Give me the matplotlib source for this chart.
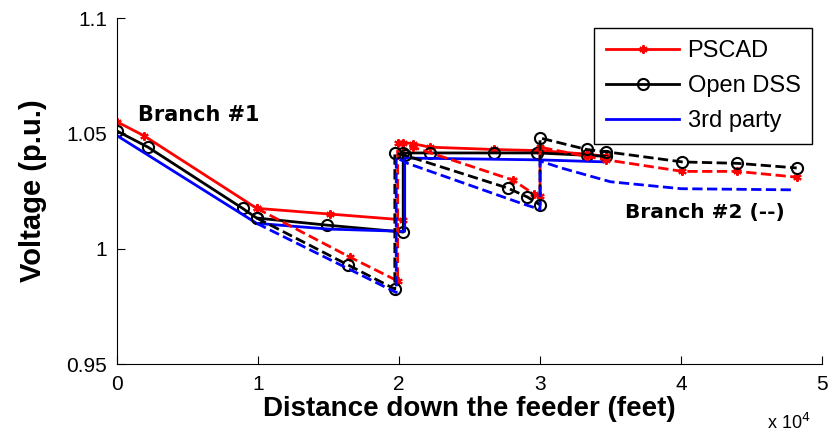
import numpy as np
from matplotlib import pyplot as plt

# Branch #1 (solid) - distance in feet, voltage in p.u.
pscad_x1 = [0, 1900, 9900, 15100, 20300, 20300, 21000, 22200, 26700, 30000, 33300, 34700]
pscad_v1 = [1.055, 1.049, 1.0175, 1.015, 1.0125, 1.046, 1.0455, 1.044, 1.043, 1.0425, 1.041, 1.040]
dss_x1 = [0, 2200, 8900, 9900, 14900, 20300, 20300, 22200, 26700, 29800, 33300, 34700]
dss_v1 = [1.051, 1.044, 1.0175, 1.0133, 1.0102, 1.0072, 1.0415, 1.0415, 1.0415, 1.0415, 1.0405, 1.040]
third_x1 = [0, 9900, 15000, 20400, 20400, 30000, 34700]
third_v1 = [1.049, 1.011, 1.0085, 1.0075, 1.0393, 1.0385, 1.0376]

# Branch #2 (dashed)
pscad_x2 = [9900, 16500, 19900, 19900, 21000, 28100, 29600, 30000, 30000, 33300, 34700, 40100, 44000, 48200]
pscad_v2 = [1.0175, 0.9964, 0.986, 1.046, 1.044, 1.0297, 1.0235, 1.023, 1.044, 1.040, 1.0385, 1.0335, 1.0335, 1.031]
dss_x2 = [9900, 16400, 19700, 19700, 20400, 27700, 29100, 30000, 30000, 33300, 34700, 40100, 44000, 48200]
dss_v2 = [1.0133, 0.9929, 0.9825, 1.0415, 1.0405, 1.0263, 1.0224, 1.019, 1.048, 1.043, 1.042, 1.0376, 1.037, 1.035]
third_x2 = [9900, 19800, 19800, 20600, 28600, 30000, 30000, 31500, 35000, 40000, 48000]
third_v2 = [1.011, 0.981, 1.0395, 1.037, 1.0198, 1.017, 1.038, 1.035, 1.029, 1.026, 1.0255]

xticks = [0, 10000, 20000, 30000, 40000, 50000]
xtick_labels = ['0', '1', '2', '3', '4', '5']
yticks = [0.95, 1.0, 1.05, 1.1]
ytick_labels = ['0.95', '1', '1.05', '1.1']

plt.rcParams['font.family'] = ['Liberation Sans', 'DejaVu Sans']

fig = plt.figure(figsize=(8.37, 4.37), dpi=100)
ax = fig.add_axes([0.1398, 0.167, 0.8424, 0.7918])

star = (6, 2, 0)
ax.plot(pscad_x1, pscad_v1, color='red', lw=2, marker=star, ms=6, mew=1.5, label='PSCAD')
ax.plot(dss_x1, dss_v1, color='black', lw=2, marker='o', ms=8, mew=1.5, mfc='none', label='Open DSS')
ax.plot(third_x1, third_v1, color='blue', lw=2, label='3rd party')
ax.plot(pscad_x2, pscad_v2, color='red', lw=2, ls='--', marker=star, ms=6, mew=1.5)
ax.plot(dss_x2, dss_v2, color='black', lw=2, ls='--', marker='o', ms=8, mew=1.5, mfc='none')
ax.plot(third_x2, third_v2, color='blue', lw=2, ls='--')

ax.set_xlim(0, 50000)
ax.set_ylim(0.95, 1.1)
ax.set_xticks(xticks)
ax.set_xticklabels(xtick_labels)
ax.set_yticks(yticks)
ax.set_yticklabels(ytick_labels)
ax.tick_params(direction='in', length=6, labelsize=15, colors='black')
ax.tick_params(axis='x', pad=8)
ax.tick_params(axis='y', pad=7)
ax.spines['top'].set_visible(False)
ax.spines['right'].set_visible(False)

ax.set_xlabel('Distance down the feeder (feet)', fontsize=20, fontweight='bold', labelpad=1)
ax.set_ylabel('Voltage (p.u.)', fontsize=21, fontweight='bold', labelpad=14)
ax.text(0.922, -0.2, r'x 10$^4$', transform=ax.transAxes, fontsize=13, va='bottom')

ax.text(1500, 1.058, 'Branch #1', fontsize=15, fontweight='bold', family='DejaVu Sans', va='center')
ax.text(36000, 1.0155, 'Branch #2 (--)', fontsize=14.5, fontweight='bold', family='DejaVu Sans', va='center')

leg = ax.legend(loc='upper right', bbox_to_anchor=(0.986, 0.971), borderaxespad=0,
                fontsize=17, fancybox=False, edgecolor='black', framealpha=1,
                handlelength=3.1, handletextpad=0.35, labelspacing=0.55, borderpad=0.5)
leg.get_frame().set_linewidth(1)

fig.savefig('out.png', dpi=100)
